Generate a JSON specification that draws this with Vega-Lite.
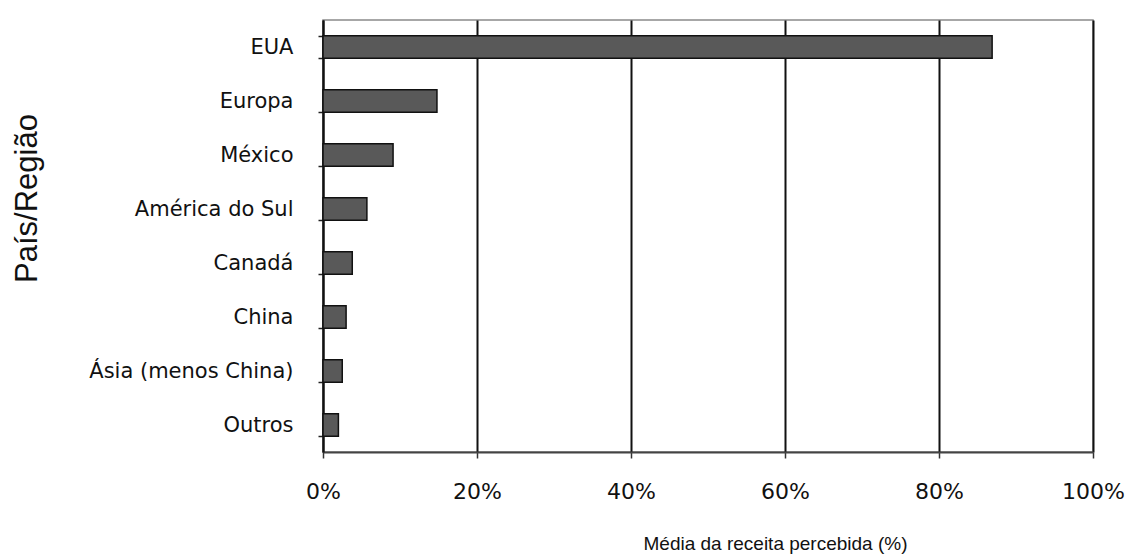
{
  "$schema": "https://vega.github.io/schema/vega-lite/v6.json",
  "autosize": "none",
  "width": 770,
  "height": 432,
  "padding": {"left": 323, "top": 20, "right": 40, "bottom": 103},
  "background": "white",
  "config": {
    "view": {"stroke": "#8a8a8a", "strokeWidth": 1.5},
    "axis": {"labelFont": "DejaVu Sans", "titleFont": "Liberation Sans", "labelColor": "#111", "titleColor": "#111", "titleFontWeight": "normal"}
  },
  "data": {
    "values": [
      {"regiao": "EUA", "valor": 86.9},
      {"regiao": "Europa", "valor": 14.8},
      {"regiao": "México", "valor": 9.1},
      {"regiao": "América do Sul", "valor": 5.7},
      {"regiao": "Canadá", "valor": 3.8},
      {"regiao": "China", "valor": 3.0},
      {"regiao": "Ásia (menos China)", "valor": 2.5},
      {"regiao": "Outros", "valor": 2.0}
    ]
  },
  "mark": {"type": "bar", "fill": "#595959", "stroke": "#111", "strokeWidth": 1.5},
  "encoding": {
    "y": {
      "field": "regiao",
      "type": "nominal",
      "sort": null,
      "scale": {"paddingInner": 0.58, "paddingOuter": 0.29},
      "axis": {
        "title": "País/Região",
        "titleFontSize": 31,
        "titleAngle": -90,
        "titleAlign": "center",
        "titleBaseline": "alphabetic",
        "titleX": -287,
        "titleY": 178,
        "labelFontSize": 21,
        "labelLimit": 0,
        "labelPadding": 25,
        "tickBand": "extent",
        "tickSize": 5,
        "tickColor": "#222",
        "tickWidth": 1.5,
        "domainColor": "#111",
        "domainWidth": 2,
        "grid": false
      }
    },
    "x": {
      "field": "valor",
      "type": "quantitative",
      "scale": {"domain": [0, 100], "nice": false},
      "axis": {
        "values": [0, 20, 40, 60, 80, 100],
        "labelExpr": "datum.value + '%'",
        "labelFontSize": 22,
        "labelPadding": 23,
        "labelFlush": false,
        "tickSize": 6,
        "tickColor": "#333",
        "tickWidth": 1.5,
        "domainColor": "#444",
        "domainWidth": 2,
        "grid": true,
        "gridColor": "#111",
        "gridWidth": 2,
        "gridOpacity": 1,
        "title": "Média da receita percebida (%)",
        "titleFontSize": 19,
        "titleAlign": "center",
        "titleBaseline": "alphabetic",
        "titleX": 452,
        "titleY": 97
      }
    }
  }
}
